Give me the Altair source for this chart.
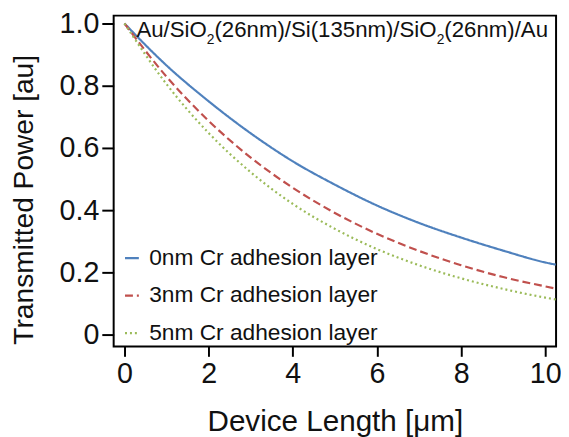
import altair as alt
import pandas as pd

# ---- data ----
x_um = [0, 1, 2, 3, 4, 5, 6, 7, 8, 9, 10, 10.25]
p_0nm = [1.0, 0.865, 0.75, 0.647, 0.557, 0.482, 0.415, 0.359, 0.312, 0.27, 0.232, 0.225]
p_3nm = [1.0, 0.829, 0.687, 0.569, 0.472, 0.391, 0.324, 0.269, 0.223, 0.185, 0.155, 0.148]
p_5nm = [1.0, 0.805, 0.648, 0.522, 0.42, 0.34, 0.275, 0.223, 0.181, 0.147, 0.119, 0.113]
series_names = ["0nm Cr adhesion layer", "3nm Cr adhesion layer", "5nm Cr adhesion layer"]
x_ticks = [0, 2, 4, 6, 8, 10]
y_ticks = [0, 0.2, 0.4, 0.6, 0.8, 1.0]
title_parts = [("Au/SiO", False), ("2", True), ("(26nm)/Si(135nm)/SiO", False), ("2", True), ("(26nm)/Au", False)]

colors = ["#4F81BD", "#C0504D", "#9BBB59"]
dashes = [[1, 0], [8, 4], [2, 3]]
FONT = "Liberation Sans"

rows = []
for name, vals in zip(series_names, [p_0nm, p_3nm, p_5nm]):
    for xv, pv in zip(x_um, vals):
        rows.append({"x": xv, "p": pv, "s": name})
df = pd.DataFrame(rows)

W, H = 448, 335

legend = alt.Legend(
    orient="none", legendX=7, legendY=234, title=None,
    labelFont=FONT, labelFontSize=23, labelColor="#111111", labelOffset=6, labelLimit=400,
    symbolType="stroke", symbolSize=196, symbolStrokeWidth=2.2,
    rowPadding=14, padding=0,
)

lines = alt.Chart(df).mark_line(strokeWidth=2.2, interpolate="monotone", clip=True).encode(
    x=alt.X("x:Q",
            scale=alt.Scale(domain=[-0.258, 10.257], nice=False, zero=False),
            axis=alt.Axis(values=x_ticks, title="Device Length [μm]", tickSize=10,
                          labelPadding=4, titleBaseline="alphabetic", titleY=85)),
    y=alt.Y("p:Q",
            scale=alt.Scale(domain=[-0.038, 1.0254], nice=False, zero=False),
            axis=alt.Axis(values=y_ticks, title="Transmitted Power [au]", tickSize=12,
                          labelPadding=3, titleFontSize=28.5,
                          labelExpr="datum.value == 0 ? '0' : format(datum.value, '.1f')",
                          titleX=-82, titleY=186, titleBaseline="alphabetic", titleAngle=-90)),
    color=alt.Color("s:N", scale=alt.Scale(domain=series_names, range=colors), legend=legend),
    strokeDash=alt.StrokeDash("s:N", scale=alt.Scale(domain=series_names, range=dashes), legend=legend),
)

# title text with subscripts (Arial/Liberation Sans advance widths)
adv = {"A": .667, "u": .556, "/": .278, "S": .667, "i": .222, "O": .778, "(": .333, ")": .333,
       "2": .556, "6": .556, "n": .556, "m": .833, "1": .556, "3": .556, "5": .556}
main_size, sub_size = 22.5, 14
x0, base_y, sub_y = 23, 22, 29
layers = [lines]
cur = x0
one = pd.DataFrame({"a": [0]})
for txt, sub in title_parts:
    size = sub_size if sub else main_size
    layers.append(
        alt.Chart(one).mark_text(align="left", baseline="alphabetic", font=FONT,
                                 fontSize=size, color="#111111").encode(
            x=alt.value(cur), y=alt.value(sub_y if sub else base_y), text=alt.value(txt))
    )
    cur += sum(adv.get(c, 0.556) for c in txt) * size

chart = alt.layer(*layers).properties(
    width=W, height=H,
    autosize=alt.AutoSizeParams(type="none"),
    padding={"left": 107, "top": 5, "right": 5, "bottom": 89},
).configure_view(
    stroke="black", strokeWidth=2
).configure_axis(
    grid=False, domain=False,
    labelFont=FONT, labelFontSize=29, labelColor="#111111",
    titleFont=FONT, titleFontSize=30, titleFontWeight="normal", titleColor="#111111",
    tickColor="black", tickWidth=2,
)

chart.save("out.html", embed_options={"renderer": "svg", "actions": False})
